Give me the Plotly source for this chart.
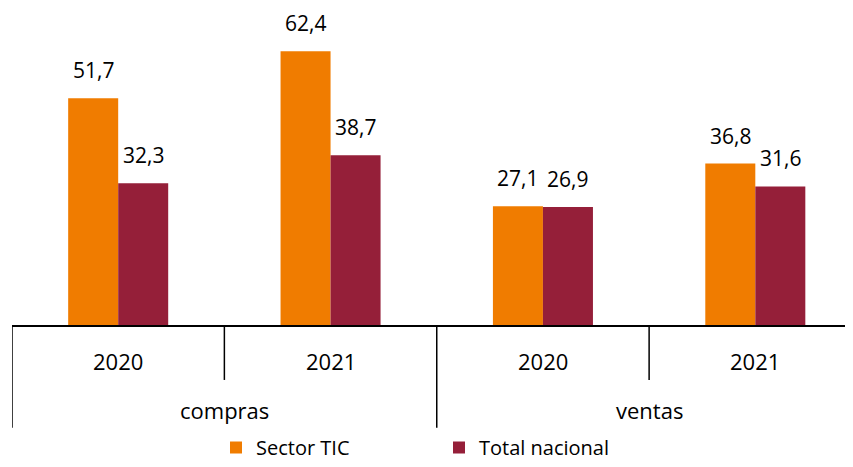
import plotly.graph_objects as go

groups = ["compras", "compras", "ventas", "ventas"]
years = ["2020", "2021", "2020", "2021"]
group_labels = ["compras", "ventas"]
sector_tic = [51.7, 62.4, 27.1, 36.8]
total_nacional = [32.3, 38.7, 26.9, 31.6]
series_names = ["Sector TIC", "Total nacional"]
colors = ["#F07C00", "#951F39"]

FONT = "Open Sans"
fig = go.Figure()
for k, (name, vals, col) in enumerate(zip(series_names, [sector_tic, total_nacional], colors)):
    fig.add_trace(go.Bar(
        x=[groups, years], y=vals, name=name,
        marker=dict(color=col, line=dict(width=0)),
        legend=("legend" if k == 0 else "legend2"),
    ))

# value labels
for k, vals in enumerate([sector_tic, total_nacional]):
    for i, v in enumerate(vals):
        fig.add_annotation(
            x=i, y=v, xref="x", yref="y",
            text=f"{v:.1f}".replace(".", ","),
            showarrow=False, yanchor="bottom",
            xshift=(-25 if k == 0 else 25), yshift=12,
            font=dict(family=FONT, size=21, color="#000"),
        )

# category labels (year level)
for i, yr in enumerate(years):
    fig.add_annotation(x=i, y=-0.117, xref="x", yref="paper", text=yr,
                       showarrow=False, yanchor="middle",
                       font=dict(family=FONT, size=22, color="#000"))
# group labels
for j, g in enumerate(group_labels):
    fig.add_annotation(x=2 * j + 0.5, y=-0.277, xref="x", yref="paper", text=g,
                       showarrow=False, yanchor="middle",
                       font=dict(family=FONT, size=22, color="#000"))

# dividers
n = len(years)
for b in range(n + 1):
    pos = b - 0.5
    if pos > 3.46:
        continue
    is_group = (b % 2 == 0)
    fig.add_shape(type="line", xref="x", yref="paper", x0=pos, x1=pos,
                  y0=0, y1=(-0.335 if is_group else -0.179),
                  line=dict(color="#000", width=1.5))

legend_style = dict(orientation="h", xanchor="left", yref="container", y=-0.012,
                    yanchor="bottom", font=dict(family=FONT, size=20, color="#000"),
                    bgcolor="rgba(0,0,0,0)")

# the page body has an 8px margin, so the figure is sized to fit the window
fig.update_layout(
    width=845, height=459,
    margin=dict(l=4, r=0, t=10, b=142, autoexpand=False),
    paper_bgcolor="white", plot_bgcolor="white",
    barmode="group", bargap=0.529, bargroupgap=0,
    font=dict(family=FONT, color="#000"),
    showlegend=True,
    legend=dict(x=0.2426, **legend_style),
    legend2=dict(x=0.5077, **legend_style),
)
fig.update_xaxes(
    type="multicategory", range=[-0.5, 3.46], automargin=False,
    showline=True, linecolor="#000", linewidth=2,
    showdividers=False, showticklabels=False, showgrid=False, ticks="",
)
fig.update_yaxes(range=[0, 70], visible=False, showgrid=False, automargin=False)

fig.write_html("out.html")
